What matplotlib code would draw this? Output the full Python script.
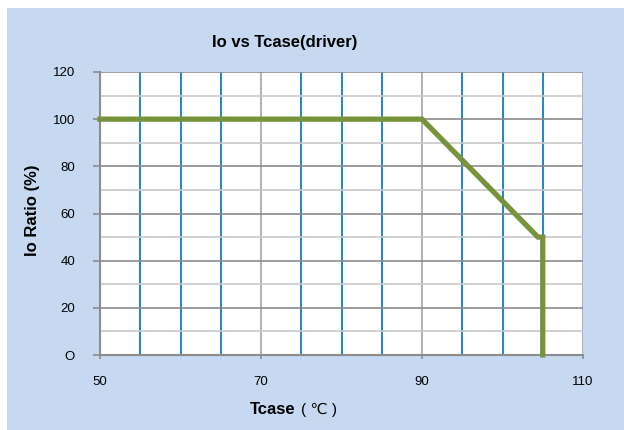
import matplotlib
matplotlib.use('Agg')
import matplotlib.pyplot as plt
from matplotlib.patches import Rectangle

plt.rcParams['font.family'] = ['Liberation Sans', 'DejaVu Sans']

# derating curve: case temperature vs output current ratio
tcase = [50, 90, 104.4, 105, 105]
io_ratio = [100, 100, 50, 50, 0]

x_major = [50, 70, 90, 110]
x_minor = [55, 60, 65, 75, 80, 85, 95, 100, 105]
y_major = [0, 20, 40, 60, 80, 100, 120]
y_minor = [10, 30, 50, 70, 90, 110]
y_labels = ['O', '20', '40', '60', '80', '100', '120']

W, H = 624, 430
fig = plt.figure(figsize=(W / 100, H / 100), dpi=100)
fig.patch.set_facecolor('white')
bg = Rectangle((7 / W, 0), 1 - 7 / W, 1 - 8 / H, transform=fig.transFigure,
               facecolor='#C6D9F0', edgecolor='none', zorder=-10)
fig.patches.append(bg)

ax = fig.add_axes([100 / W, (H - 355) / H, 483 / W, 283 / H])
ax.set_facecolor('white')
ax.plot(tcase, io_ratio, color='#77933C', lw=3.8, solid_joinstyle='miter', zorder=5, clip_on=False)

ax.set_xlim(50, 110)
ax.set_ylim(0, 120)
ax.set_xticks(x_major)
ax.set_xticks(x_minor, minor=True)
ax.set_yticks(y_major)
ax.set_yticks(y_minor, minor=True)
ax.set_yticklabels(y_labels)

ax.grid(which='major', axis='x', color='#A6A6A6', lw=1.2)
ax.grid(which='minor', axis='x', color='#0070C0', lw=1.2)
ax.grid(which='major', axis='y', color='#8C8C8C', lw=1.2)
ax.grid(which='minor', axis='y', color='#C8C8C8', lw=1.2)
ax.set_axisbelow(True)

for s in ['top', 'right']:
    ax.spines[s].set_visible(False)
for s in ['left', 'bottom']:
    ax.spines[s].set_color('#8C8C8C')
    ax.spines[s].set_linewidth(1.5)

ax.tick_params(axis='y', which='major', length=5, width=1.2, color='#8C8C8C', pad=13, labelsize=9.5)
ax.tick_params(axis='x', which='major', length=3, width=1.2, color='#8C8C8C', pad=12, labelsize=9.5)
ax.tick_params(which='minor', length=0)

fig.text(285 / W, 1 - 43 / H, 'Io vs Tcase(driver)', ha='center', va='center',
         fontsize=12, fontweight='bold')
fig.text(33 / W, 1 - 210 / H, 'Io Ratio (%)', ha='center', va='center', rotation=90,
         fontsize=12, fontweight='bold')
fig.text(296 / W, 1 - 410 / H, 'Tcase', ha='right', va='center', fontsize=12, fontweight='bold')
fig.text(301 / W, 1 - 410 / H, '( ℃ )', ha='left', va='center', fontsize=11)

fig.savefig('out.png', dpi=100)
